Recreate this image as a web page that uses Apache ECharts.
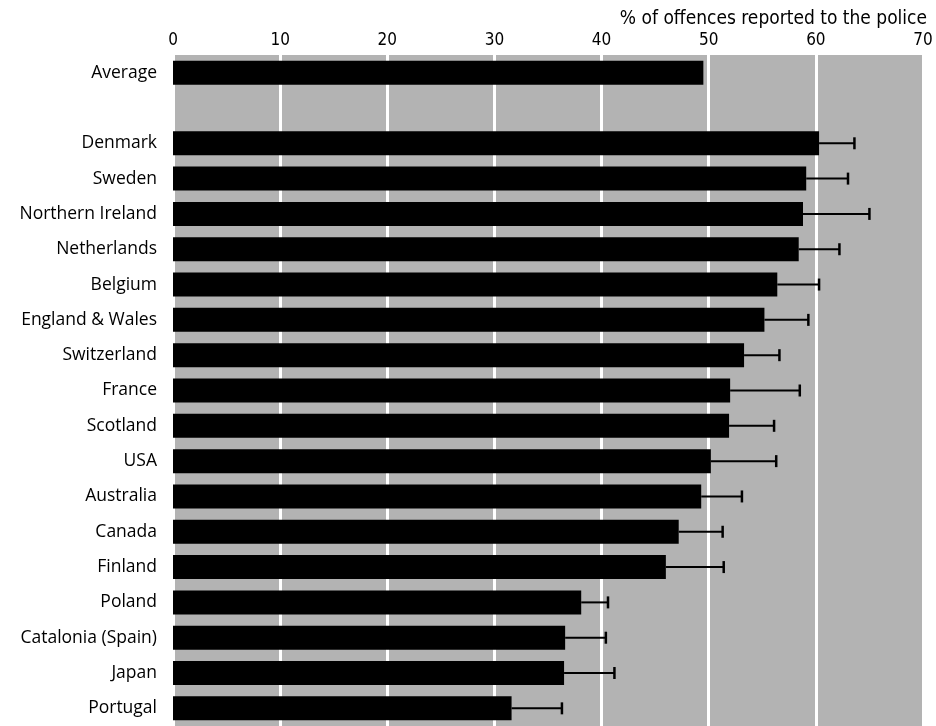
<!DOCTYPE html>
<html>
<head>
<meta charset="utf-8">
<script src="https://cdn.jsdelivr.net/npm/echarts@6/dist/echarts.min.js"></script>
<style>
html,body{margin:0;padding:0;background:#fff;}
#chart{width:936px;height:726px;}
</style>
</head>
<body>
<div id="chart"></div>
<script>
const categories = ["Average", "", "Denmark", "Sweden", "Northern Ireland", "Netherlands", "Belgium",
  "England & Wales", "Switzerland", "France", "Scotland", "USA", "Australia", "Canada",
  "Finland", "Poland", "Catalonia (Spain)", "Japan", "Portugal"];
const reported = [49.5, null, 60.3, 59.1, 58.8, 58.4, 56.4, 55.2, 53.3, 52.0, 51.9, 50.2, 49.3, 47.2,
  46.0, 38.1, 36.6, 36.5, 31.6];
const upperLimit = [null, null, 63.6, 63.0, 65.0, 62.2, 60.3, 59.3, 56.6, 58.5, 56.1, 56.3, 53.1, 51.3,
  51.4, 40.6, 40.4, 41.2, 36.3];
const axisTitle = "% of offences reported to the police";
const xMin = 0, xMax = 70, xStep = 10;

const errData = [];
categories.forEach((c, i) => {
  if (reported[i] != null && upperLimit[i] != null) errData.push([reported[i], upperLimit[i], i]);
});

const narrow = '"DejaVu Sans Condensed", "Liberation Sans", sans-serif';
const chart = echarts.init(document.getElementById('chart'), null, {renderer: 'canvas'});
chart.setOption({
  animation: false,
  backgroundColor: '#ffffff',
  title: {
    text: axisTitle,
    right: 4, top: 5,
    textStyle: {fontFamily: narrow, fontSize: 19, fontWeight: 'normal', color: '#000'}
  },
  grid: {left: 173, right: 13, top: 55, height: 673, show: true, backgroundColor: '#b3b3b3', borderWidth: 0},
  xAxis: {
    type: 'value', position: 'top', min: xMin, max: xMax, interval: xStep,
    axisLine: {show: false}, axisTick: {show: false},
    axisLabel: {margin: 6, fontFamily: narrow, fontSize: 17, color: '#000'},
    splitLine: {show: true, lineStyle: {color: '#ffffff', width: 3}}
  },
  yAxis: {
    type: 'category', data: categories, inverse: true,
    axisLine: {show: false}, axisTick: {show: false},
    axisLabel: {margin: 16, fontFamily: '"Open Sans", sans-serif', fontSize: 17.5, color: '#000'}
  },
  series: [
    {
      type: 'bar', data: reported, barWidth: 24,
      itemStyle: {color: '#000'}
    },
    {
      type: 'custom',
      data: errData,
      encode: {x: [0, 1], y: 2},
      renderItem: function (params, api) {
        const y = api.value(2);
        const p0 = api.coord([api.value(0), y]);
        const p1 = api.coord([api.value(1), y]);
        return {
          type: 'group',
          children: [
            {type: 'line', shape: {x1: p0[0], y1: p0[1], x2: p1[0], y2: p1[1]}, style: {stroke: '#000', lineWidth: 2}},
            {type: 'line', shape: {x1: p1[0], y1: p1[1] - 6, x2: p1[0], y2: p1[1] + 6}, style: {stroke: '#000', lineWidth: 2.5}}
          ]
        };
      },
      z: 3
    }
  ]
});
</script>
</body>
</html>
